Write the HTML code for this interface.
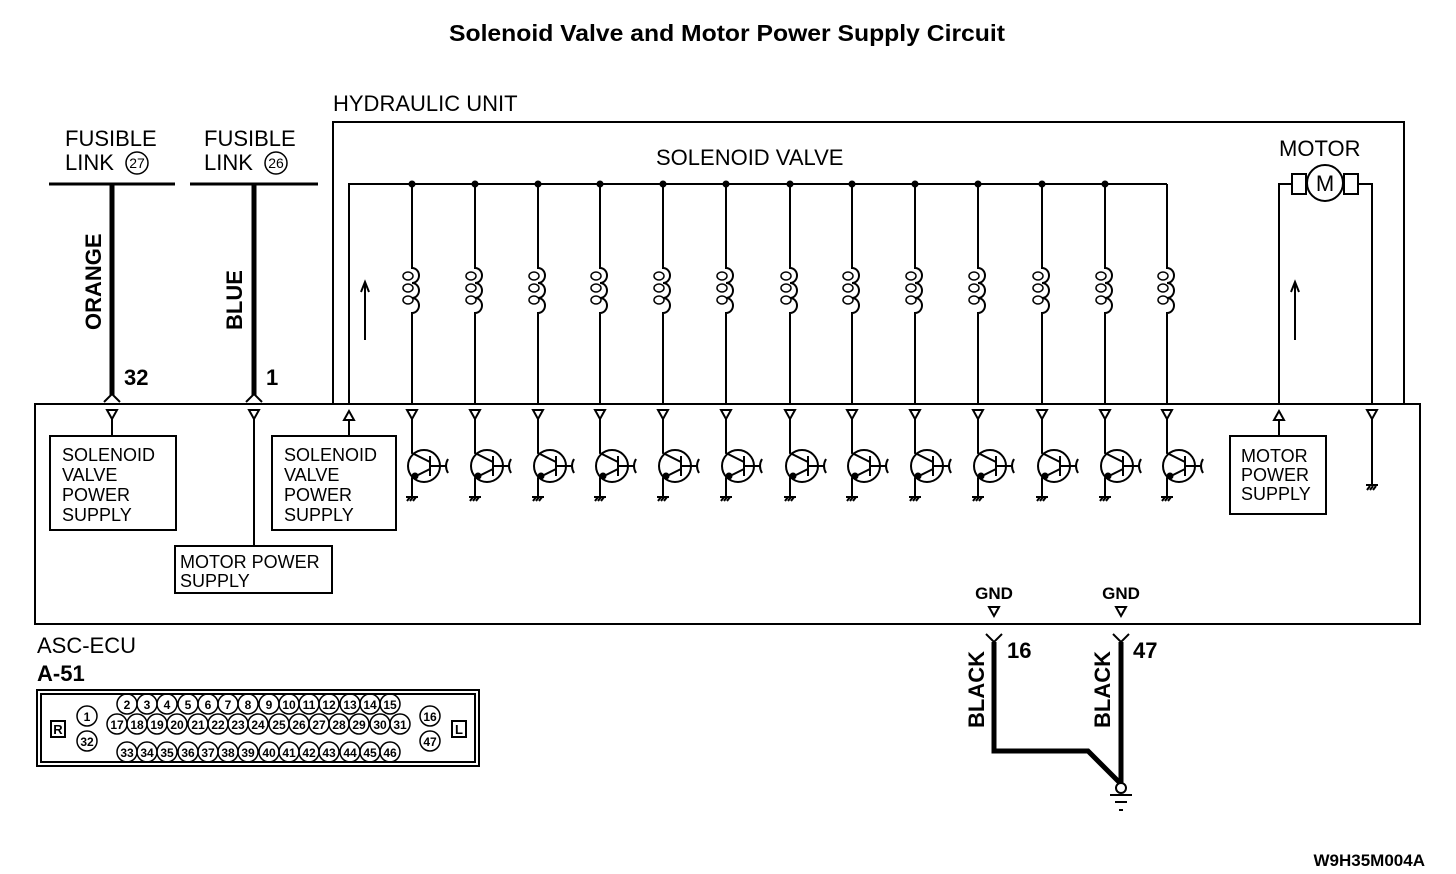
<!DOCTYPE html>
<html><head><meta charset="utf-8"><style>
body{margin:0;background:#fff}
svg{display:block;font-family:"Liberation Sans",Arial,sans-serif}
.t{font-size:22px}
.s{font-size:18px}
.b{font-weight:bold}
</style></head><body>
<svg width="1456" height="874" viewBox="0 0 1456 874" xmlns="http://www.w3.org/2000/svg" xmlns:xlink="http://www.w3.org/1999/xlink">
<defs>
<g id="v" fill="none" stroke="#000" stroke-width="2">
<path d="M0 184V268A7 7.5 0 0 1 0 283A7 7.5 0 0 1 0 298A7 7.5 0 0 1 0 313V404"/>
<ellipse cx="-4" cy="276" rx="5" ry="4" stroke-width="1.5"/>
<ellipse cx="-4" cy="288" rx="5" ry="4" stroke-width="1.5"/>
<ellipse cx="-4" cy="300" rx="5" ry="4" stroke-width="1.5"/>
<path d="M-5 410h10l-5 9z"/>
<circle cx="12" cy="466" r="16"/>
<path d="M0 419V453L18 462M18 456V476M18 469L0 478V497M18 466H34M36 459q-4 7 0 14M-6 497h12M-5 501l3-4M-2 501l3-4M1 501l3-4"/>
<circle cx="3" cy="476" r="2.5" fill="#000"/>
</g>
<circle id="c" r="10" fill="none" stroke="#000" stroke-width="1.5"/>
</defs>
<g fill="none" stroke="#000" stroke-width="2">
<path d="M333 404V122H1404V404"/>
<rect x="35" y="404" width="1385" height="220"/>
<path d="M49 184H175M190 184H318" stroke-width="3"/>
<path d="M112 184V395M254 184V395" stroke-width="5"/>
<path d="M104 402L112 394L120 402M246 402L254 394L262 402"/>
<path d="M107 410h10l-5 9zM249 410h10l-5 9z"/>
<path d="M112 419V436M254 419V546"/>
<rect x="50" y="436" width="126" height="94"/>
<rect x="272" y="436" width="124" height="94"/>
<rect x="175" y="546" width="157" height="47"/>
<path d="M349 404V184H1167"/>
<path d="M344 420h10l-5 -9zM349 420V436"/>
<path d="M365 340V282M361 292l4-10 4 10"/>
<path d="M1279 404V184H1292M1358 184H1372V404"/>
<rect x="1292" y="174" width="14" height="20"/><rect x="1344" y="174" width="14" height="20"/>
<circle cx="1325" cy="183" r="18" fill="#fff"/>
<path d="M1295 340V282M1291 292l4-10 4 10"/>
<path d="M1274 420h10l-5 -9zM1279 420V436"/>
<rect x="1230" y="436" width="96" height="78"/>
<path d="M1367 410h10l-5 9zM1372 419V485M1366 485h12M1367 490l3-4M1370 490l3-4M1373 490l3-4"/>
<path d="M989 607h10l-5 9zM1116 607h10l-5 9z"/>
<path d="M986 634L994 642L1002 634M1113 634L1121 642L1129 634"/>
<path d="M994 642V751H1088L1121 784M1121 642V783" stroke-width="5"/>
<circle cx="1121" cy="788" r="5" fill="#fff"/>
<path d="M1110 795H1132M1115 802H1127M1119 810H1123"/>
<rect x="37" y="690" width="442" height="76"/>
<rect x="41" y="694" width="434" height="68"/>
<rect x="51" y="721" width="14" height="16"/><rect x="452" y="721" width="14" height="16"/>
</g>
<use xlink:href="#v" x="412"/><use xlink:href="#v" x="475"/><use xlink:href="#v" x="538"/><use xlink:href="#v" x="600"/><use xlink:href="#v" x="663"/><use xlink:href="#v" x="726"/><use xlink:href="#v" x="790"/><use xlink:href="#v" x="852"/><use xlink:href="#v" x="915"/><use xlink:href="#v" x="978"/><use xlink:href="#v" x="1042"/><use xlink:href="#v" x="1105"/><use xlink:href="#v" x="1167"/>
<g fill="#000">
<circle cx="412" cy="184" r="3.5"/><circle cx="475" cy="184" r="3.5"/><circle cx="538" cy="184" r="3.5"/><circle cx="600" cy="184" r="3.5"/><circle cx="663" cy="184" r="3.5"/><circle cx="726" cy="184" r="3.5"/><circle cx="790" cy="184" r="3.5"/><circle cx="852" cy="184" r="3.5"/><circle cx="915" cy="184" r="3.5"/><circle cx="978" cy="184" r="3.5"/><circle cx="1042" cy="184" r="3.5"/><circle cx="1105" cy="184" r="3.5"/>
</g>
<g>
<use xlink:href="#c" x="127" y="704"/><use xlink:href="#c" x="147" y="704"/><use xlink:href="#c" x="167" y="704"/><use xlink:href="#c" x="188" y="704"/><use xlink:href="#c" x="208" y="704"/><use xlink:href="#c" x="228" y="704"/><use xlink:href="#c" x="248" y="704"/><use xlink:href="#c" x="269" y="704"/><use xlink:href="#c" x="289" y="704"/><use xlink:href="#c" x="309" y="704"/><use xlink:href="#c" x="329" y="704"/><use xlink:href="#c" x="350" y="704"/><use xlink:href="#c" x="370" y="704"/><use xlink:href="#c" x="390" y="704"/>
<use xlink:href="#c" x="117" y="724"/><use xlink:href="#c" x="137" y="724"/><use xlink:href="#c" x="157" y="724"/><use xlink:href="#c" x="177" y="724"/><use xlink:href="#c" x="198" y="724"/><use xlink:href="#c" x="218" y="724"/><use xlink:href="#c" x="238" y="724"/><use xlink:href="#c" x="258" y="724"/><use xlink:href="#c" x="279" y="724"/><use xlink:href="#c" x="299" y="724"/><use xlink:href="#c" x="319" y="724"/><use xlink:href="#c" x="339" y="724"/><use xlink:href="#c" x="359" y="724"/><use xlink:href="#c" x="380" y="724"/><use xlink:href="#c" x="400" y="724"/>
<use xlink:href="#c" x="127" y="752"/><use xlink:href="#c" x="147" y="752"/><use xlink:href="#c" x="167" y="752"/><use xlink:href="#c" x="188" y="752"/><use xlink:href="#c" x="208" y="752"/><use xlink:href="#c" x="228" y="752"/><use xlink:href="#c" x="248" y="752"/><use xlink:href="#c" x="269" y="752"/><use xlink:href="#c" x="289" y="752"/><use xlink:href="#c" x="309" y="752"/><use xlink:href="#c" x="329" y="752"/><use xlink:href="#c" x="350" y="752"/><use xlink:href="#c" x="370" y="752"/><use xlink:href="#c" x="390" y="752"/>
<use xlink:href="#c" x="87" y="716"/><use xlink:href="#c" x="87" y="741"/><use xlink:href="#c" x="430" y="716"/><use xlink:href="#c" x="430" y="741"/>
</g>
<g fill="#000">
<text x="727" y="41" text-anchor="middle" class="b" font-size="23" textLength="556" lengthAdjust="spacingAndGlyphs">Solenoid Valve and Motor Power Supply Circuit</text>
<text x="333" y="111" class="t">HYDRAULIC UNIT</text>
<text x="65" y="146" class="t">FUSIBLE</text><text x="65" y="170" class="t">LINK</text>
<circle cx="137" cy="163" r="11" fill="none" stroke="#000" stroke-width="1.5"/><text x="137" y="168" font-size="14" text-anchor="middle">27</text>
<text x="204" y="146" class="t">FUSIBLE</text><text x="204" y="170" class="t">LINK</text>
<circle cx="276" cy="163" r="11" fill="none" stroke="#000" stroke-width="1.5"/><text x="276" y="168" font-size="14" text-anchor="middle">26</text>
<text x="656" y="165" class="t">SOLENOID VALVE</text>
<text x="1279" y="156" class="t">MOTOR</text>
<text x="1325" y="191" font-size="22" text-anchor="middle">M</text>
<text transform="translate(101,330) rotate(-90)" class="b" font-size="22">ORANGE</text>
<text transform="translate(242,330) rotate(-90)" class="b" font-size="22">BLUE</text>
<text x="124" y="385" class="b" font-size="22">32</text>
<text x="266" y="385" class="b" font-size="22">1</text>
<text x="62" y="461" class="s">SOLENOID</text><text x="62" y="481" class="s">VALVE</text><text x="62" y="501" class="s">POWER</text><text x="62" y="521" class="s">SUPPLY</text>
<text x="284" y="461" class="s">SOLENOID</text><text x="284" y="481" class="s">VALVE</text><text x="284" y="501" class="s">POWER</text><text x="284" y="521" class="s">SUPPLY</text>
<text x="180" y="568" class="s">MOTOR POWER</text><text x="180" y="587" class="s">SUPPLY</text>
<text x="1241" y="462" class="s">MOTOR</text><text x="1241" y="481" class="s">POWER</text><text x="1241" y="500" class="s">SUPPLY</text>
<text x="994" y="599" text-anchor="middle" class="b" font-size="17">GND</text>
<text x="1121" y="599" text-anchor="middle" class="b" font-size="17">GND</text>
<text x="1007" y="658" class="b" font-size="22">16</text>
<text x="1133" y="658" class="b" font-size="22">47</text>
<text transform="translate(984,728) rotate(-90)" class="b" font-size="22">BLACK</text>
<text transform="translate(1110,728) rotate(-90)" class="b" font-size="22">BLACK</text>
<text x="37" y="653" class="t">ASC-ECU</text>
<text x="37" y="681" class="b" font-size="22">A-51</text>
<text x="1425" y="866" text-anchor="end" class="b" font-size="17">W9H35M004A</text>
<text x="58" y="734" font-size="13" text-anchor="middle" class="b">R</text>
<text x="459" y="734" font-size="13" text-anchor="middle" class="b">L</text>
<g font-size="12" text-anchor="middle" class="b">
<text x="87" y="721">1</text><text x="87" y="746">32</text><text x="430" y="721">16</text><text x="430" y="746">47</text>
<text x="127" y="709">2</text><text x="147" y="709">3</text><text x="167" y="709">4</text><text x="188" y="709">5</text><text x="208" y="709">6</text><text x="228" y="709">7</text><text x="248" y="709">8</text><text x="269" y="709">9</text><text x="289" y="709">10</text><text x="309" y="709">11</text><text x="329" y="709">12</text><text x="350" y="709">13</text><text x="370" y="709">14</text><text x="390" y="709">15</text>
<text x="117" y="729">17</text><text x="137" y="729">18</text><text x="157" y="729">19</text><text x="177" y="729">20</text><text x="198" y="729">21</text><text x="218" y="729">22</text><text x="238" y="729">23</text><text x="258" y="729">24</text><text x="279" y="729">25</text><text x="299" y="729">26</text><text x="319" y="729">27</text><text x="339" y="729">28</text><text x="359" y="729">29</text><text x="380" y="729">30</text><text x="400" y="729">31</text>
<text x="127" y="757">33</text><text x="147" y="757">34</text><text x="167" y="757">35</text><text x="188" y="757">36</text><text x="208" y="757">37</text><text x="228" y="757">38</text><text x="248" y="757">39</text><text x="269" y="757">40</text><text x="289" y="757">41</text><text x="309" y="757">42</text><text x="329" y="757">43</text><text x="350" y="757">44</text><text x="370" y="757">45</text><text x="390" y="757">46</text>
</g>
</g>
</svg>
</body></html>
